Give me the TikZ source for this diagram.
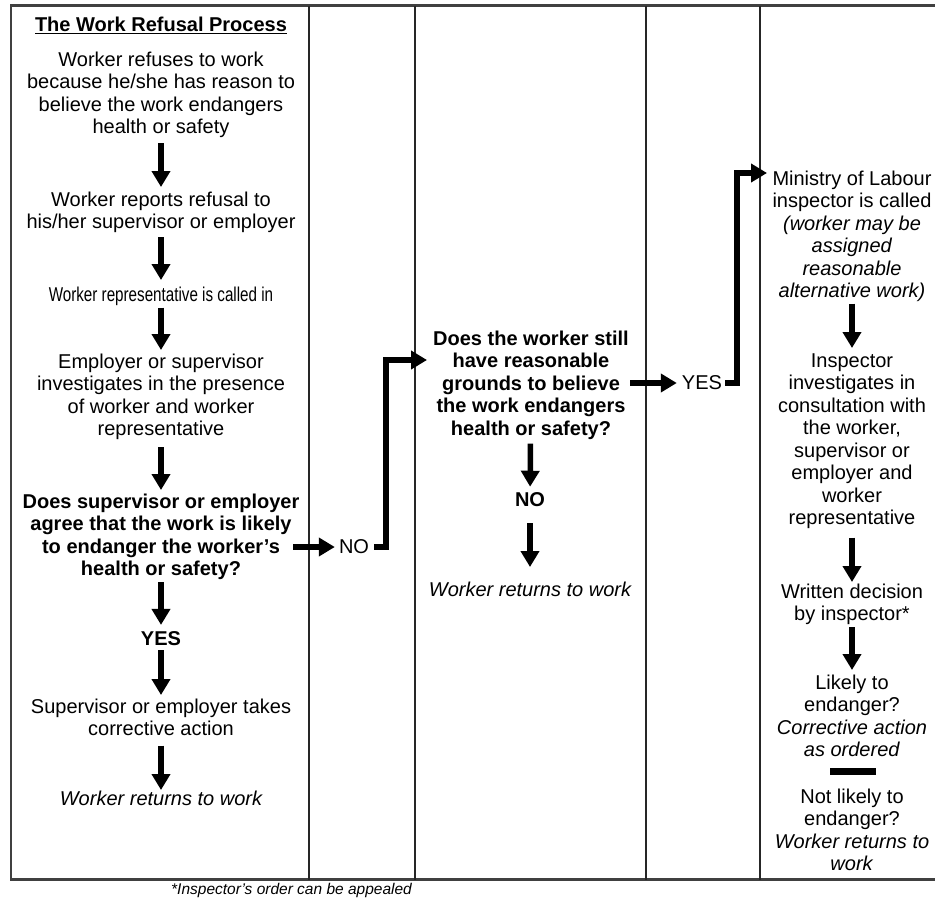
\documentclass[tikz,border=0pt]{standalone}
\usepackage{fontspec}
\usepackage{graphicx}
\setmainfont{Liberation Sans}
\usetikzlibrary{arrows.meta}
\begin{document}
\begin{tikzpicture}[x=1pt,y=-1pt,
  txt/.style={font=\fontsize{20}{22.5}\selectfont, align=center, inner sep=0pt, anchor=north},
  boldtxt/.style={txt, font=\fontsize{20}{22.5}\selectfont\bfseries},
  ittxt/.style={txt, font=\fontsize{20}{22.5}\selectfont\itshape},
  arr/.style={line width=5.5pt, -{Triangle[width=18pt,length=16pt]}},
  colline/.style={line width=1.6pt, draw=black!85},
  frameline/.style={line width=2.5pt, draw=black!75}]
\useasboundingbox (0,0) rectangle (935,902);
% frame and columns
\draw[frameline] (936,5.5) -- (11,5.5) -- (11,879.5) -- (936,879.5);
\draw[colline] (309,5.5) -- (309,879.5);
\draw[colline] (415,5.5) -- (415,879.5);
\draw[colline] (646,5.5) -- (646,879.5);
\draw[colline] (760,5.5) -- (760,879.5);
% column 1
\node[boldtxt] (title) at (161,16.5) {\underline{The Work Refusal Process}};
\node[txt] (t1) at (161,51.5) {Worker refuses to work\\because he/she has reason to\\believe the work endangers\\health or safety};
\node[txt] (t2) at (161,191.5) {Worker reports refusal to\\his/her supervisor or employer};
\node[txt] (t3) at (161,286.5) {\scalebox{0.76}[1]{Worker representative is called in}};
\node[txt] (t4) at (161,353.5) {Employer or supervisor\\investigates in the presence\\of worker and worker\\representative};
\node[boldtxt] (t5) at (161,493.5) {Does supervisor or employer\\agree that the work is likely\\to endanger the worker's\\health or safety?};
\node[boldtxt] (yes1) at (161,630.9) {YES};
\node[txt] (t6) at (161,698.5) {Supervisor or employer takes\\corrective action};
\node[ittxt] (t7) at (161,790.5) {Worker returns to work};
% column 2
\node[txt, anchor=center] (no1) at (354,547) {NO};
% column 3
\node[boldtxt] (t8) at (531,330.5) {Does the worker still\\have reasonable\\grounds to believe\\the work endangers\\health or safety?};
\node[boldtxt, anchor=center] (no2) at (530,500) {NO};
\node[ittxt] (t9) at (530,581.5) {Worker returns to work};
% column 4
\node[txt, anchor=center] (yes2) at (702,383) {YES};
% column 5
\node[txt] (t10) at (852,170.5) {Ministry of Labour\\inspector is called\\\textit{(worker may be}\\\textit{assigned}\\\textit{reasonable}\\\textit{alternative work)}};
\node[txt] (t11) at (852,353.5) {Inspector\\investigates in\\consultation with\\the worker,\\supervisor or\\employer and\\worker\\representative};
\node[txt] (t12) at (852,583.5) {Written decision\\by inspector*};
\node[txt] (t13) at (852,674.5) {Likely to\\endanger?\\\textit{Corrective action}\\\textit{as ordered}};
\node[fill=black, minimum width=46pt, minimum height=7pt, inner sep=0pt] (bar) at (853,771.5) {};
\node[txt] (t14) at (852,788.5) {Not likely to\\endanger?\\\textit{Worker returns to}\\\textit{work}};
% footnote
\node[font=\fontsize{15.5}{18}\selectfont\itshape, anchor=west, inner sep=0pt] (foot) at (171,890) {*Inspector's order can be appealed};
% arrows column 1
\draw[arr, shorten <=5pt, shorten >=4.5pt] (t1) -- (t2);
\draw[arr, shorten <=4.3pt, shorten >=6.5pt] (t2) -- (t3);
\draw[arr, shorten <=2pt, shorten >=3.5pt] (t3) -- (t4);
\draw[arr, shorten <=7pt, shorten >=3.5pt] (t4) -- (t5);
\draw[arr, shorten <=2.3pt, shorten >=6pt] (t5) -- (yes1);
\draw[arr, shorten <=5pt, shorten >=3.5pt] (yes1) -- (t6);
\draw[arr, shorten <=9.5pt, shorten >=0.5pt] (t6) -- (t7);
% NO branch
\coordinate (n1s) at (293,547);
\draw[arr, shorten >=4pt] (n1s) -- (no1);
\coordinate (q1in) at (427,360);
\draw[arr, shorten <=5pt] (no1.east) -- ++(17,0) |- (q1in);
% column 3
\draw[arr, shorten <=4pt, shorten >=6pt] (t8) -- (no2);
\draw[arr, shorten <=16pt, shorten >=14.5pt] (no2) -- (t9);
% YES branch
\coordinate (y2s) at (630,383);
\draw[arr, shorten >=5pt] (y2s) -- (yes2);
\coordinate (q2in) at (767,173);
\draw[arr, shorten <=3pt] (yes2.east) -- ++(15,0) |- (q2in);
% column 5
\draw[arr, shorten <=1.5pt, shorten >=5.5pt] (t10) -- (t11);
\draw[arr, shorten <=8.3pt, shorten >=1.5pt] (t11) -- (t12);
\draw[arr, shorten <=2.3pt, shorten >=4.5pt] (t12) -- (t13);
\end{tikzpicture}
\end{document}
